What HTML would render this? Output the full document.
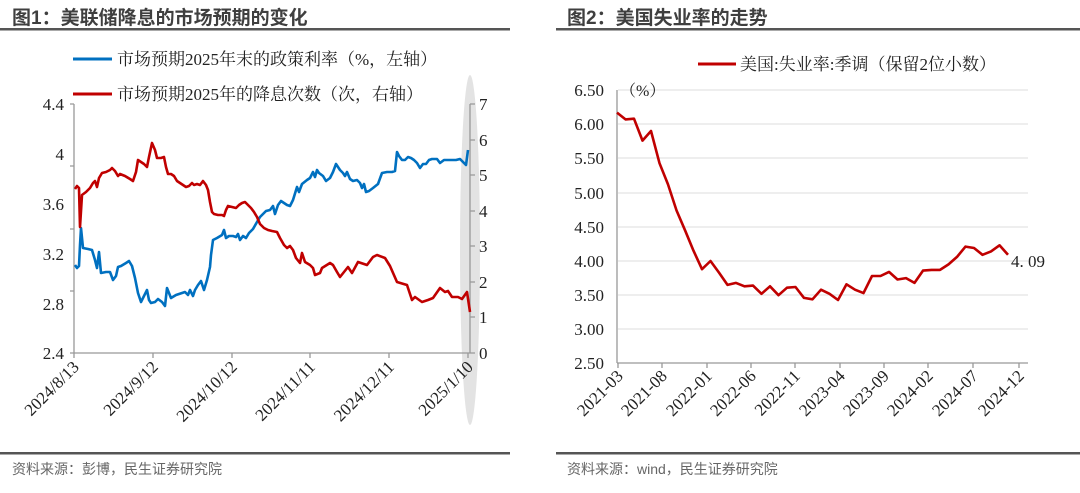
<!DOCTYPE html>
<html><head><meta charset="utf-8"><style>
body{margin:0;background:#fff;}
svg text{font-family:"Liberation Serif","Noto Serif CJK SC",serif;}
.cj{font-family:"Liberation Sans","Noto Sans CJK SC",sans-serif;}
</style></head><body>
<svg width="1080" height="488" xmlns="http://www.w3.org/2000/svg">
<rect width="1080" height="488" fill="#fff"/>
<text x="12" y="24" class="cj" font-size="19" font-weight="bold" fill="#3f3f3f">图1：美联储降息的市场预期的变化</text>
<text x="567" y="24" class="cj" font-size="19" font-weight="bold" fill="#3f3f3f">图2：美国失业率的走势</text>
<rect x="0" y="28" width="510" height="2.5" fill="#555"/>
<rect x="556" y="28" width="524" height="2.5" fill="#555"/>
<rect x="0" y="452" width="510" height="2.5" fill="#555"/>
<rect x="556" y="452" width="524" height="2.5" fill="#555"/>
<text x="12" y="474" class="cj" font-size="14" fill="#666">资料来源：彭博，民生证券研究院</text>
<text x="567" y="474" class="cj" font-size="14" fill="#666">资料来源：wind，民生证券研究院</text>

<!-- chart 1 -->
<ellipse cx="470" cy="250" rx="10" ry="175" fill="#e3e3e3"/>
<line x1="73" y1="59" x2="112" y2="59" stroke="#0070c0" stroke-width="3"/>
<text x="117" y="65" font-size="17" fill="#222">市场预期2025年末的政策利率（%，左轴）</text>
<line x1="73" y1="94" x2="112" y2="94" stroke="#c00000" stroke-width="3"/>
<text x="117" y="100" font-size="17" fill="#222">市场预期2025年的降息次数（次，右轴）</text>
<g stroke="#999" stroke-width="1.3" fill="none">
<line x1="74" y1="104" x2="74" y2="353"/><line x1="74" y1="353" x2="470" y2="353"/>
<line x1="470" y1="104" x2="470" y2="353"/>
<path d="M70 104h4M70 166h4M70 229h4M70 291h4M70 353h4"/>
<path d="M470 104h5M470 140h5M470 175h5M470 211h5M470 246h5M470 282h5M470 317h5M470 353h5"/>
<path d="M74 353v5M153 353v5M232 353v5M310 353v5M389 353v5M468 353v5"/>
</g>
<g font-size="17" fill="#222" text-anchor="end">
<text x="64" y="110">4.4</text><text x="64" y="160">4</text><text x="64" y="210">3.6</text><text x="64" y="260">3.2</text><text x="64" y="310">2.8</text><text x="64" y="359">2.4</text>
</g>
<g font-size="17" fill="#222">
<text x="479" y="110">7</text><text x="479" y="146">6</text><text x="479" y="181">5</text><text x="479" y="217">4</text><text x="479" y="252">3</text><text x="479" y="288">2</text><text x="479" y="323">1</text><text x="479" y="359">0</text>
</g>
<g font-size="17" fill="#222" text-anchor="end">
<text transform="translate(80,368) rotate(-45)">2024/8/13</text>
<text transform="translate(159,368) rotate(-45)">2024/9/12</text>
<text transform="translate(238,368) rotate(-45)">2024/10/12</text>
<text transform="translate(316,368) rotate(-45)">2024/11/11</text>
<text transform="translate(395,368) rotate(-45)">2024/12/11</text>
<text transform="translate(474,368) rotate(-45)">2025/1/10</text>
</g>
<polyline fill="none" stroke="#0070c0" stroke-width="2.6" stroke-linejoin="round" points="75,265 77,268 79,266 80,245 81,228 83,248 88,249 92,250 95,260 97,268 99,252 101,273 106,272 110,272 113,280 116,276 118,267 121,266 126,263 129,261 132,266 135,278 138,293 141,302 144,296 147,290 149,300 151,303 155,302 158,299 162,302 165,306 167,288 171,298 176,295 182,293 185,292 188,295 190,290 193,296 195,290 198,285 201,281 204,290 207,280 210,267 211,255 213,240 217,238 222,235 224,230 226,238 229,236 233,236 236,237 238,234 240,240 243,236 246,238 249,233 253,229 257,222 260,217 263,214 266,211 270,210 273,206 275,214 278,205 281,201 284,203 287,205 290,206 293,200 297,187 299,192 302,184 307,180 310,178 313,172 315,177 317,170 319,173 323,176 326,181 330,178 333,172 336,164 340,170 343,173 345,176 347,172 350,179 353,181 357,180 360,183 362,188 364,184 366,192 369,191 373,188 378,184 382,173 387,172 392,172 395,171 397,152 399,156 402,160 405,160 408,157 411,158 414,160 417,163 420,168 423,164 426,164 429,160 432,159 437,159 440,163 444,160 452,160 456,160 460,159 466,165 468,150"/>
<polyline fill="none" stroke="#c00000" stroke-width="2.6" stroke-linejoin="round" points="75,189 77,186 79,188 80,227 82,195 86,192 90,188 93,183 95,181 97,187 99,178 102,173 106,172 110,170 112,168 115,171 118,176 120,174 125,176 130,179 133,181 136,172 138,160 141,162 144,164 147,167 149,157 152,143 155,150 157,158 161,158 164,157 166,167 168,174 171,174 174,176 177,181 180,183 183,185 186,187 189,186 192,183 194,185 197,184 200,185 203,181 206,185 208,190 210,202 212,212 214,214 218,215 222,215 224,216 226,210 228,206 232,207 236,208 239,205 242,203 245,202 248,205 251,208 254,212 257,217 260,224 264,228 268,230 272,231 277,232 280,238 284,245 287,248 290,246 293,250 296,258 300,263 302,253 305,262 310,265 313,268 315,275 320,273 322,268 330,263 333,265 337,272 340,277 344,272 348,267 352,273 358,262 367,265 373,257 377,255 385,258 390,266 397,282 407,285 412,300 415,297 422,302 428,300 433,298 440,288 445,292 448,291 452,297 458,297 462,299 467,292 470,312"/>

<!-- chart 2 -->
<line x1="698" y1="64" x2="736" y2="64" stroke="#c00000" stroke-width="3"/>
<text x="740" y="70" font-size="17" fill="#222">美国:失业率:季调（保留2位小数）</text>
<g stroke="#e3e3e3" stroke-width="1.3">
<line x1="618" y1="90" x2="1028" y2="90"/><line x1="618" y1="124" x2="1028" y2="124"/><line x1="618" y1="158" x2="1028" y2="158"/><line x1="618" y1="193" x2="1028" y2="193"/><line x1="618" y1="227" x2="1028" y2="227"/><line x1="618" y1="261" x2="1028" y2="261"/><line x1="618" y1="295" x2="1028" y2="295"/><line x1="618" y1="329" x2="1028" y2="329"/>
</g>
<g stroke="#999" stroke-width="1.3" fill="none">
<line x1="617" y1="90" x2="617" y2="363"/><line x1="617" y1="363" x2="1028" y2="363"/>
<path d="M618 363v5M662 363v5M707 363v5M751 363v5M795 363v5M840 363v5M884 363v5M928 363v5M973 363v5M1019 363v5"/>
</g>
<g font-size="17" fill="#222" text-anchor="end">
<text x="604" y="96">6.50</text><text x="604" y="130">6.00</text><text x="604" y="164">5.50</text><text x="604" y="199">5.00</text><text x="604" y="233">4.50</text><text x="604" y="267">4.00</text><text x="604" y="301">3.50</text><text x="604" y="335">3.00</text><text x="604" y="369">2.50</text>
</g>
<text x="620" y="96" font-size="16" fill="#222">（%）</text>
<text x="1011" y="267" font-size="17" fill="#222">4. 09</text>
<g font-size="17" fill="#222" text-anchor="end">
<text transform="translate(624,377) rotate(-45)">2021-03</text>
<text transform="translate(668,377) rotate(-45)">2021-08</text>
<text transform="translate(713,377) rotate(-45)">2022-01</text>
<text transform="translate(757,377) rotate(-45)">2022-06</text>
<text transform="translate(801,377) rotate(-45)">2022-11</text>
<text transform="translate(846,377) rotate(-45)">2023-04</text>
<text transform="translate(890,377) rotate(-45)">2023-09</text>
<text transform="translate(934,377) rotate(-45)">2024-02</text>
<text transform="translate(979,377) rotate(-45)">2024-07</text>
<text transform="translate(1025,377) rotate(-45)">2024-12</text>
</g>
<polyline fill="none" stroke="#c00000" stroke-width="2.6" stroke-linejoin="round" points="617,112.6 625.5,119.4 634,118.7 642.5,140.6 651,131 659.5,163.2 668,184.4 676.5,210.4 685,230.2 693.5,250.7 702,269.2 710.5,261 719,272.6 727.5,284.9 736,282.9 744.5,286.3 753,285.6 761.5,293.8 770,286.3 778.5,295.2 787,287.7 795.5,287 804,297.9 812.5,299.3 821,289.7 829.5,293.8 838,300 846.5,284.3 855,289.7 863.5,293.1 872,276 880.5,276 889,271.9 897.5,279.5 906,278.1 914.5,282.9 923,270.6 931.5,269.9 940,269.9 948.5,264.4 957,256.9 965.5,246.6 974,248 982.5,254.8 991,251.4 999.5,245.3 1008,254.8"/>
</svg>
</body></html>
